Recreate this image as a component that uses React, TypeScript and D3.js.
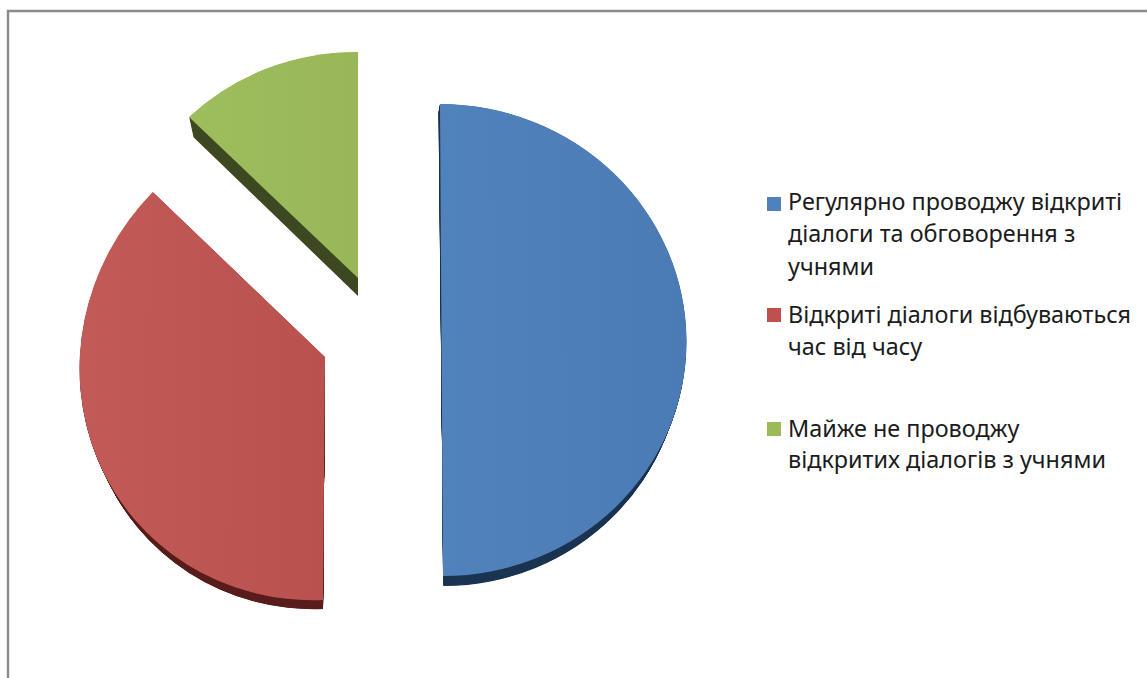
import React from 'react';
import * as d3 from 'd3';

const categories = [
  'Регулярно проводжу відкриті діалоги та обговорення з учнями',
  'Відкриті діалоги відбуваються час від часу',
  'Майже не проводжу відкритих діалогів з учнями',
];
const shares = [50, 37.5, 12.5];

// wrapped legend text, same order as categories
const legendLines = [
  ['Регулярно проводжу відкриті', 'діалоги та обговорення з', 'учнями'],
  ['Відкриті діалоги відбуваються', 'час від часу'],
  ['Майже не проводжу', 'відкритих діалогів з учнями'],
];

const swatchColors = ['#4f81bd', '#c0504d', '#9bbb59'];
const topColors = [
  ['#5082bb', '#4b7bb5'],
  ['#c25a57', '#b9524f'],
  ['#9ebd5d', '#99b759'],
];
const sideColors = ['#1c3553', '#5a1e1d', '#3e4a22'];

// each exploded slice has its own projection in the picture: [a, b, c, d, e, f] of an svg matrix, per unit radius
const topFaces = [
  [245, 0, 1.5, 236, 441.5, 340],
  [245.5, -9.7, -2, 243, 325, 357],
  [239, 1.7, 0, 226, 358, 278],
];
const bottomFaces = [
  [241, 0, 2.5, 237, 441, 349],
  [240.5, -9.7, -2, 243, 325, 366],
  [233, 1, 0, 224, 358, 296],
];

const legendBaselines = [
  [210, 242, 275],
  [323, 355],
  [437, 468],
];
const legendSwatchY = [197, 308, 422];

const WIDTH = 1147;
const HEIGHT = 678;
const UNIT = 100;

const matrixAttr = (m: number[]) =>
  `matrix(${m[0] / UNIT} ${m[1] / UNIT} ${m[2] / UNIT} ${m[3] / UNIT} ${m[4]} ${m[5]})`;

export default function App() {
  const pie = d3.pie<number>().sort(null).startAngle(0).endAngle(2 * Math.PI);
  const arc = d3.arc<d3.PieArcDatum<number>>().innerRadius(0).outerRadius(UNIT);
  const slices = pie(shares);

  // the side wall is the slice repeated between its bottom and top face
  const wallSteps = d3.range(0, 1, 0.04);

  return (
    <svg
      width={WIDTH}
      height={HEIGHT}
      style={{ position: 'absolute', left: 0, top: 0, display: 'block', background: '#fff' }}
    >
      <defs>
        {topColors.map((c, i) => (
          <linearGradient key={i} id={`face-${i}`} x1="0" x2="1" y1="0" y2="0">
            <stop offset="0%" stopColor={c[0]} />
            <stop offset="100%" stopColor={c[1]} />
          </linearGradient>
        ))}
      </defs>

      <path d={`M8 ${HEIGHT}V11H${WIDTH}`} fill="none" stroke="#8c8c8c" strokeWidth={2.4} />

      {slices.map((s, i) => (
        <g key={categories[i]}>
          {wallSteps.map(t => (
            <path
              key={t}
              d={arc(s) as string}
              fill={sideColors[i]}
              transform={matrixAttr(d3.interpolateNumberArray(bottomFaces[i], topFaces[i])(t) as unknown as number[])}
            />
          ))}
          <path d={arc(s) as string} fill={`url(#face-${i})`} transform={matrixAttr(topFaces[i])} />
        </g>
      ))}

      <g fontFamily="'Noto Sans', sans-serif" fontSize={23.4} fill="#1c1c1c">
        {legendLines.map((lines, i) => (
          <g key={i}>
            <rect x={767} y={legendSwatchY[i]} width={14} height={14} fill={swatchColors[i]} />
            {lines.map((line, j) => (
              <text key={j} x={788} y={legendBaselines[i][j]}>
                {line}
              </text>
            ))}
          </g>
        ))}
      </g>
    </svg>
  );
}
